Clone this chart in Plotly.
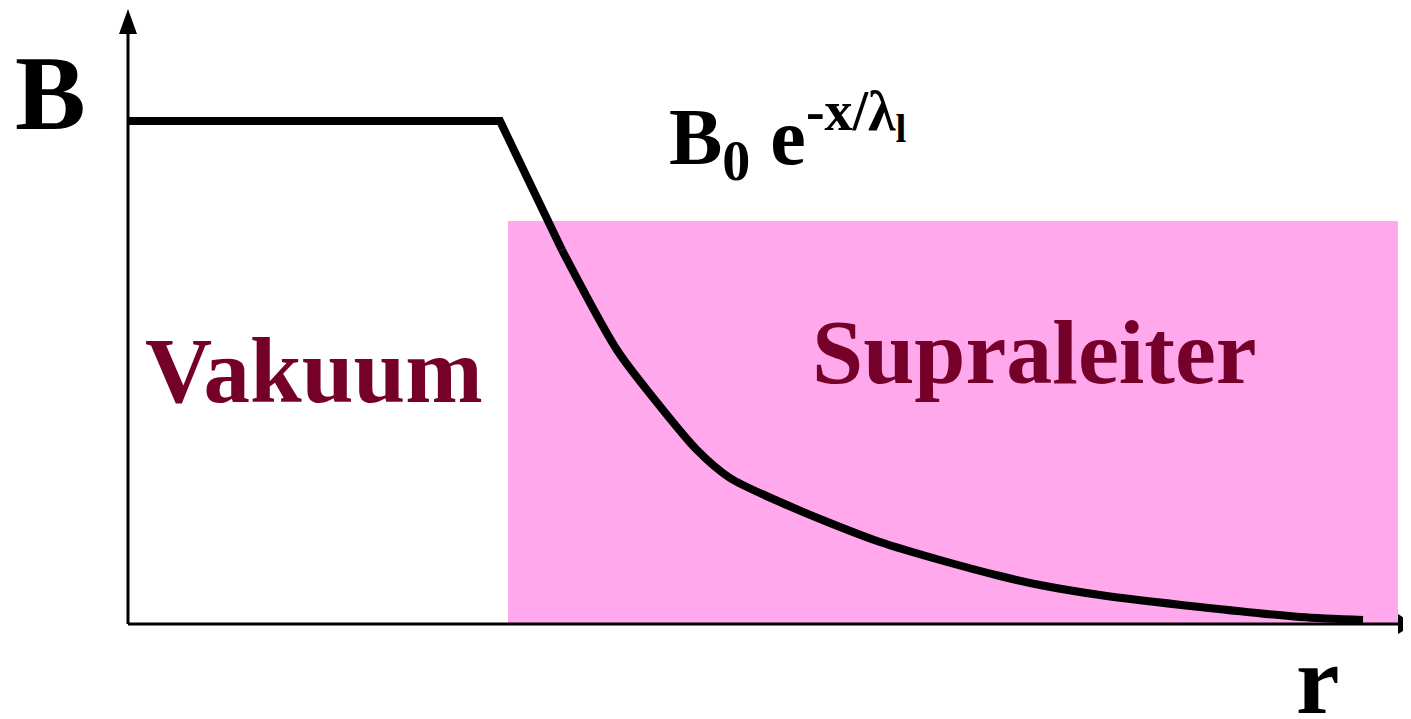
import plotly.graph_objects as go

# Field profile B(r) (arbitrary units; r=0 at vertical axis, B=0 at horizontal axis)
r_vals = [0.0, 3.72, 4.34, 4.89, 5.27, 5.69, 6.02, 6.52, 7.02, 7.52, 8.12, 8.72, 9.12, 9.72, 10.72, 11.72, 12.35]
b_vals = [5.02, 5.02, 3.73, 2.73, 2.23, 1.73, 1.45, 1.21, 1.00, 0.81, 0.63, 0.47, 0.38, 0.28, 0.16, 0.06, 0.03]

# Superconductor region
sc_r_start = 3.80
sc_r_end = 12.70
sc_height = 4.02

# Labels
label_vacuum = "Vakuum"
label_sc = "Supraleiter"
label_formula = "B<sub>0</sub> e<sup>-x/λ<sub>l</sub></sup>"
label_y = "B"
label_x = "r"

W, H = 1411, 719
PAD = 8  # default page body margin
X0, Y0, S = 128, 623, 100.0  # pixel of origin, pixels per unit


def px(x):
    return (x - X0) / S


def py(y):
    return (Y0 - y) / S


fig = go.Figure()
# straight part (plateau and entry) drawn linearly, decaying part smoothed
fig.add_trace(go.Scatter(x=r_vals[:3], y=b_vals[:3], mode="lines",
                         line=dict(color="black", width=8), hoverinfo="skip"))
fig.add_trace(go.Scatter(x=r_vals[2:], y=b_vals[2:], mode="lines",
                         line=dict(color="black", width=8, shape="spline", smoothing=0.8),
                         hoverinfo="skip"))

font = "Liberation Serif, Times New Roman, serif"
maroon = "#75002A"
pink = "#FFA9EC"

shapes = [
    dict(type="rect", x0=sc_r_start, x1=sc_r_end, y0=0, y1=sc_height,
         fillcolor=pink, line=dict(width=0), layer="below"),
    dict(type="line", x0=0, x1=px(1402), y0=py(624), y1=py(624),
         line=dict(color="black", width=3)),
    dict(type="line", x0=0, x1=0, y0=py(624), y1=py(30),
         line=dict(color="black", width=3)),
    dict(type="path",
         path=f"M {px(119)},{py(34)} L {px(128)},{py(9)} L {px(137)},{py(34)} Z",
         fillcolor="black", line=dict(width=0)),
    dict(type="path",
         path=f"M {px(1398)},{py(614)} L {px(1414)},{py(624)} L {px(1398)},{py(634)} Z",
         fillcolor="black", line=dict(width=0)),
]

annotations = [
    dict(x=px(314), y=py(370), text=f"<b>{label_vacuum}</b>", showarrow=False,
         font=dict(family=font, size=93, color=maroon), xanchor="center", yanchor="middle"),
    dict(x=px(1034), y=py(352), text=f"<b>{label_sc}</b>", showarrow=False,
         font=dict(family=font, size=92, color=maroon), xanchor="center", yanchor="middle"),
    dict(x=px(50), y=py(93), text=f"<b>{label_y}</b>", showarrow=False,
         font=dict(family=font, size=106, color="black"), xanchor="center", yanchor="middle"),
    dict(x=px(1318), y=py(680), text=f"<b>{label_x}</b>", showarrow=False,
         font=dict(family=font, size=98, color="black"), xanchor="center", yanchor="middle"),
    dict(x=px(667), y=py(136), text=f"<b>{label_formula}</b>", showarrow=False,
         font=dict(family=font, size=80, color="black"), xanchor="left", yanchor="middle"),
]

fig.update_layout(
    width=W - PAD, height=H - PAD, autosize=False,
    margin=dict(l=0, r=0, t=0, b=0),
    paper_bgcolor="white", plot_bgcolor="white",
    showlegend=False,
    xaxis=dict(range=[px(PAD), px(W)], visible=False, fixedrange=True),
    yaxis=dict(range=[py(H), py(PAD)], visible=False, fixedrange=True),
    shapes=shapes, annotations=annotations,
)

fig.write_html("out.html")
